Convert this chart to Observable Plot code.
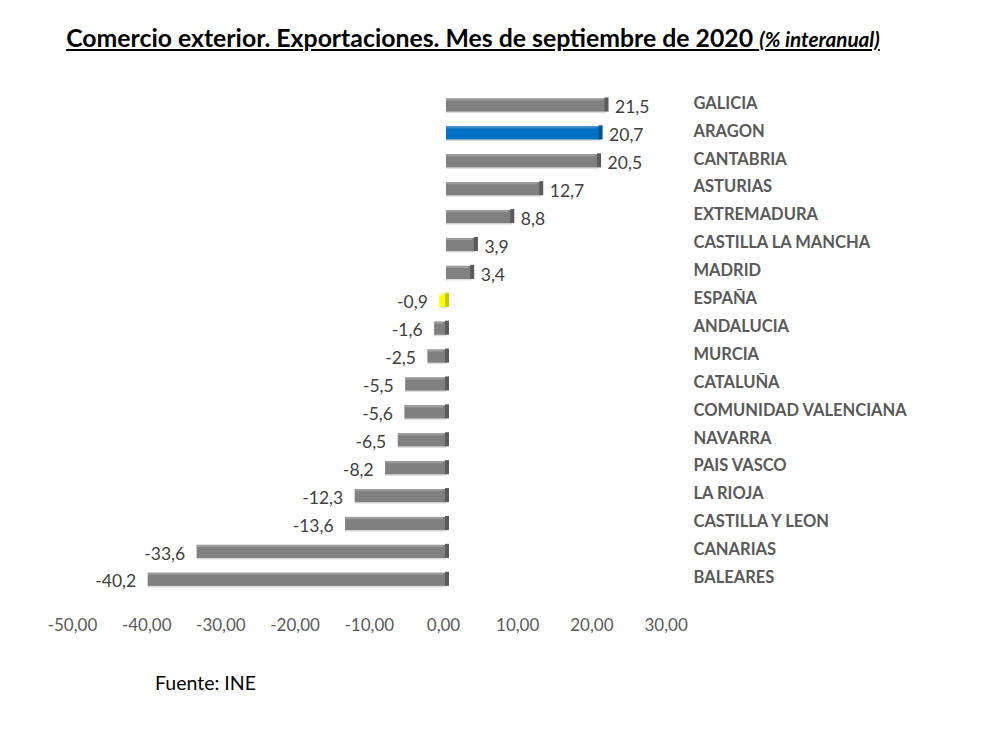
<!DOCTYPE html>
<html>
<head>
<meta charset="utf-8">
<script src="https://cdn.jsdelivr.net/npm/d3@7"></script>
<script src="https://cdn.jsdelivr.net/npm/@observablehq/plot@0.6"></script>
<style>
  html, body { margin: 0; padding: 0; background: #fff; }
  body { position: relative; width: 995px; height: 732px; overflow: hidden; font-family: Lato, "Open Sans", sans-serif; }
  #title { position: absolute; left: 0; width: 946px; top: 23px; text-align: center; font-weight: bold; font-size: 24.8px; color: #000; text-decoration: underline; white-space: nowrap; }
  #title i { font-size: 20.7px; }
  #chart { position: absolute; left: 0; top: 70px; }
  #caption { position: absolute; left: 155px; top: 671px; font-size: 19.5px; color: #000; }
</style>
</head>
<body>
<div id="title">Comercio exterior. Exportaciones. Mes de septiembre de 2020 <i>(% interanual)</i></div>
<div id="chart"></div>
<div id="caption">Fuente: INE</div>
<script>
const regiones = ["GALICIA","ARAGON","CANTABRIA","ASTURIAS","EXTREMADURA","CASTILLA LA MANCHA","MADRID","ESPAÑA","ANDALUCIA","MURCIA","CATALUÑA","COMUNIDAD VALENCIANA","NAVARRA","PAIS VASCO","LA RIOJA","CASTILLA Y LEON","CANARIAS","BALEARES"];
const valores = [21.5,20.7,20.5,12.7,8.8,3.9,3.4,-0.9,-1.6,-2.5,-5.5,-5.6,-6.5,-8.2,-12.3,-13.6,-33.6,-40.2];
const ticksX = [-50,-40,-30,-20,-10,0,10,20,30];
const destacados = {"ARAGON": ["#0070c0", "#00508a", "#3d8bcc"], "ESPAÑA": ["#ffff00", "#c8c800", "#ffff80"]};
const base = ["#808080", "#5a5a5a", "#9c9c9c"];

const data = regiones.map((r, i) => ({region: r, v: valores[i]}));
const col = (d, k) => (destacados[d.region] || base)[k];
const fmt1 = v => v.toFixed(1).replace(".", ",");
const fmt2 = v => v.toFixed(2).replace(".", ",");

const chart = Plot.plot({
  width: 995,
  height: 590,
  marginTop: 0,
  marginLeft: 0,
  marginRight: 305,
  marginBottom: 45,
  style: {fontFamily: "Lato, 'Open Sans', sans-serif", background: "white"},
  x: {domain: [-50, 30], range: [72, 665.6]},
  y: {domain: regiones, range: [13.65, 530.65], padding: 0.53, align: 0.5, round: false},
  marks: [
    // light shadow under bar
    Plot.barX(data, {x1: d => Math.min(0, d.v), x2: d => Math.max(0, d.v), y: "region", fill: "#dcdcdc", dx: 3, dy: 1.5, insetTop: 2}),
    // front face
    Plot.barX(data, {x1: d => Math.min(0, d.v), x2: d => Math.max(0, d.v), y: "region", fill: d => col(d, 0), dx: 3}),
    // top face
    Plot.barX(data, {x1: d => Math.min(0, d.v), x2: d => Math.max(0, d.v), y: "region", fill: d => col(d, 2), dx: 3, insetBottom: 11, insetRight: 3}),
    // right cap
    Plot.barX(data, {x1: d => Math.max(0, d.v), x2: d => Math.max(0, d.v), y: "region", fill: d => col(d, 1), dx: 3, insetLeft: -1, insetRight: -3, insetTop: -1}),
    // value labels
    Plot.text(data.filter(d => d.v >= 0), {x: "v", y: "region", text: d => fmt1(d.v), textAnchor: "start", dx: 12, dy: 2, fontSize: 17.5, fill: "#404040"}),
    Plot.text(data.filter(d => d.v < 0), {x: "v", y: "region", text: d => fmt1(d.v), textAnchor: "end", dx: -9, dy: 2, fontSize: 17.5, fill: "#404040"}),
    Plot.axisY({anchor: "right", tickSize: 0, tickPadding: 3, label: null, fontSize: 16.5, fontWeight: "bold", fill: "#595959", dy: -2}),
    Plot.axisX({ticks: ticksX, tickSize: 0, tickPadding: 3, tickFormat: fmt2, label: null, fontSize: 17, fill: "#595959"})
  ]
});
document.getElementById("chart").appendChild(chart);
</script>
</body>
</html>
